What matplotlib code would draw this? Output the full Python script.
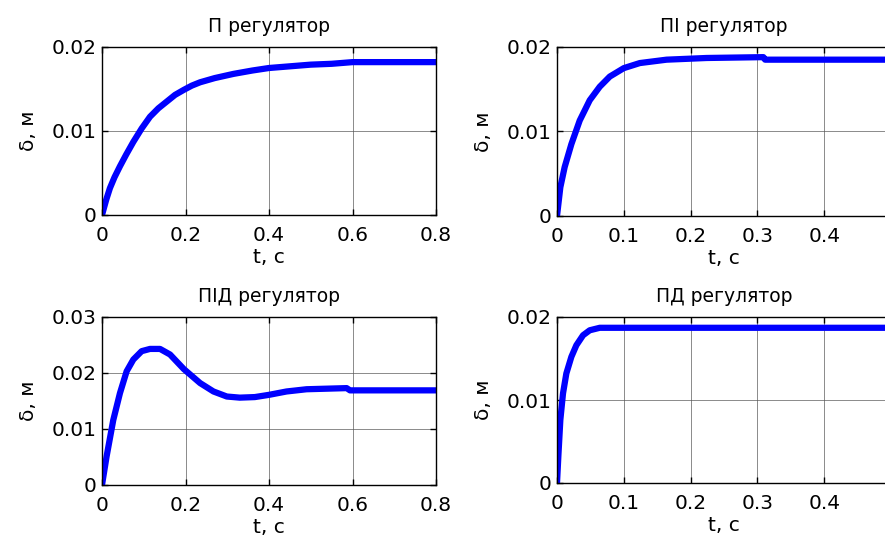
import matplotlib
matplotlib.use("Agg")
import matplotlib.pyplot as plt

# ---- data ----
titles = ["П регулятор", "ПІ регулятор", "ПІД регулятор", "ПД регулятор"]
xlabel = "t, c"
ylabel = "δ, м"

t_p = [0, 0.010, 0.019, 0.030, 0.043, 0.058, 0.075, 0.095, 0.115, 0.135, 0.155, 0.175,
       0.196, 0.215, 0.235, 0.27, 0.315, 0.36, 0.40, 0.45, 0.50, 0.55, 0.60, 0.70, 0.80]
y_p = [0, 0.0018, 0.0032, 0.0045, 0.0058, 0.0072, 0.0087, 0.0103, 0.0117, 0.0127, 0.0135, 0.0143,
       0.0149, 0.0154, 0.0158, 0.0163, 0.0168, 0.0172, 0.0175, 0.0177, 0.0179, 0.0180, 0.0182, 0.0182, 0.0182]

t_pi = [0, 0.005, 0.0115, 0.0215, 0.034, 0.049, 0.064, 0.079, 0.1, 0.124, 0.164,
        0.224, 0.309, 0.3115, 0.40, 0.50]
y_pi = [0, 0.0034, 0.0058, 0.0085, 0.0113, 0.0137, 0.0153, 0.0165, 0.0175, 0.0181, 0.0185,
        0.0187, 0.0188, 0.0185, 0.0185, 0.0185]

t_pid = [0, 0.011, 0.027, 0.043, 0.059, 0.075, 0.095, 0.115, 0.139, 0.163, 0.196, 0.235,
         0.267, 0.299, 0.33, 0.366, 0.40, 0.442, 0.49, 0.586, 0.594, 0.70, 0.80]
y_pid = [0, 0.0051, 0.0116, 0.0164, 0.0203, 0.0224, 0.0239, 0.0243, 0.0243, 0.0233, 0.0207, 0.0182,
         0.0167, 0.0158, 0.0156, 0.0157, 0.0161, 0.0167, 0.0171, 0.0173, 0.0169, 0.0169, 0.0169]

t_pd = [0, 0.002, 0.005, 0.009, 0.014, 0.0215, 0.029, 0.039, 0.049, 0.064, 0.074, 0.2, 0.35, 0.50]
y_pd = [0, 0.0032, 0.0076, 0.0108, 0.0132, 0.0152, 0.0166, 0.0178, 0.0184, 0.0187, 0.0187, 0.0187, 0.0187, 0.0187]

xt_long = [0, 0.2, 0.4, 0.6, 0.8]
xt_long_lbl = ["0", "0.2", "0.4", "0.6", "0.8"]
xt_short = [0, 0.1, 0.2, 0.3, 0.4]
xt_short_lbl = ["0", "0.1", "0.2", "0.3", "0.4"]
yt_2 = [0, 0.01, 0.02]
yt_2_lbl = ["0", "0.01", "0.02"]
yt_3 = [0, 0.01, 0.02, 0.03]
yt_3_lbl = ["0", "0.01", "0.02", "0.03"]

W, H = 885, 541
fig = plt.figure(figsize=(W / 100, H / 100), dpi=100)
plt.rcParams['font.family'] = ['DejaVu Sans']

def rect(l, r, t, b):
    return [l / W, (H - b) / H, (r - l) / W, (b - t) / H]

specs = [
    (rect(102, 436, 47, 215), t_p, y_p, (0, 0.8), xt_long, xt_long_lbl, (0, 0.02), yt_2, yt_2_lbl),
    (rect(557, 891, 47, 216), t_pi, y_pi, (0, 0.5), xt_short, xt_short_lbl, (0, 0.02), yt_2, yt_2_lbl),
    (rect(102, 436, 317, 485), t_pid, y_pid, (0, 0.8), xt_long, xt_long_lbl, (0, 0.03), yt_3, yt_3_lbl),
    (rect(557, 891, 317, 483), t_pd, y_pd, (0, 0.5), xt_short, xt_short_lbl, (0, 0.02), yt_2, yt_2_lbl),
]

for i, (r, tx, ty, xl, xt, xtl, yl, yt, ytl) in enumerate(specs):
    ax = fig.add_axes(r)
    ax.plot(tx, ty, color='#0000ff', lw=4.5, solid_capstyle='butt', clip_on=True)
    ax.set_xlim(*xl)
    ax.set_ylim(*yl)
    ax.set_xticks(xt)
    ax.set_xticklabels(xtl)
    ax.set_yticks(yt)
    ax.set_yticklabels(ytl)
    ax.grid(True, color='#555555', lw=0.6, alpha=0.8)
    ax.tick_params(direction='in', length=4, width=1, top=True, right=True,
                   labelsize=14.5, colors='k')
    ax.tick_params(axis='x', pad=8)
    ax.tick_params(axis='y', pad=4)
    for s in ax.spines.values():
        s.set_linewidth(1.0)
        s.set_color('k')
    ax.set_title(titles[i], fontsize=13.5, pad=11)
    ax.set_xlabel(xlabel, fontsize=14.5, labelpad=2)
    ax.set_ylabel(ylabel, fontsize=14.5, labelpad=10)

fig.savefig("out.png", dpi=100, facecolor='white')
